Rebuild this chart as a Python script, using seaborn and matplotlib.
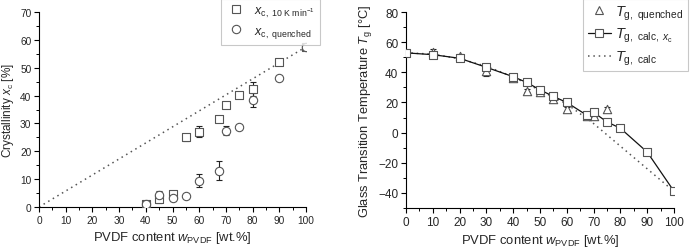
import numpy as np
import pandas as pd
import matplotlib
matplotlib.use("Agg")
import matplotlib.pyplot as plt
import seaborn as sns
from matplotlib.ticker import MultipleLocator

# ---------------- data: left panel (crystallinity) ----------------
w_sq = [40, 45, 50, 55, 60, 67.5, 70, 75, 80, 90, 100]
xc_10K = [1.0, 3.0, 4.6, 25.0, 27.1, 31.6, 36.6, 40.2, 42.2, 52.1, 57.5]
xc_10K_err = [0.5, 1.5, 1.0, 1.2, 2.0, 0.7, 0.8, 0.5, 2.5, 0.8, 0.8]
w_ci = [40, 45, 50, 55, 60, 67.5, 70, 75, 80, 90, 100]
xc_q = [1.0, 4.3, 3.2, 3.9, 9.5, 13.1, 27.4, 28.7, 38.4, 46.3, 57.5]
xc_q_err = [0.5, 1.5, 1.0, 0.5, 2.3, 3.4, 1.5, 0.5, 2.5, 0.5, 0.8]
w_ideal = [0, 100]
xc_ideal = [0, 57.5]

# ---------------- data: right panel (glass transition) ----------------
w_tri = [10, 20, 30, 40, 45, 50, 55, 60, 67.5, 70, 75]
tg_q = [53.7, 51.0, 40.7, 36.0, 27.8, 26.8, 22.2, 15.8, 11.0, 11.2, 15.8]
tg_q_err = [1.5, 1.0, 3.0, 1.2, 1.0, 1.0, 1.0, 1.5, 1.0, 1.0, 1.5]
w_calc = [0, 10, 20, 30, 40, 45, 50, 55, 60, 67.5, 70, 75, 80, 90, 100]
tg_calc_xc = [52.9, 51.7, 49.3, 43.3, 37.1, 33.3, 28.4, 24.0, 20.0, 11.5, 13.4, 7.1, 2.9, -12.9, -38.9]
w_fox = [0, 10, 20, 30, 40, 50, 60, 70, 80, 90, 100]
tg_fox = [53, 52, 49, 44, 37, 28, 19, 6, -9, -24, -39]

# ---------------- style ----------------
sns.set_theme(style="ticks")
plt.rcParams['font.family'] = ['Liberation Sans', 'DejaVu Sans']
plt.rcParams['mathtext.fontset'] = 'custom'
plt.rcParams['mathtext.rm'] = 'Liberation Sans'
plt.rcParams['mathtext.it'] = 'Liberation Sans:italic'
plt.rcParams['mathtext.bf'] = 'Liberation Sans:bold'

GRAY = '#555555'

fig = plt.figure(figsize=(6.9, 2.51), dpi=100)
ax1 = fig.add_axes([39/690, 1-208/251, (306-39)/690, (208-13)/251])
ax2 = fig.add_axes([406/690, 1-209/251, (674-406)/690, (209-13)/251])

def style_axes(ax, tfs):
    for s in ['top', 'right']:
        ax.spines[s].set_visible(False)
    for s in ['left', 'bottom']:
        ax.spines[s].set_linewidth(0.8)
        ax.spines[s].set_color('black')
    ax.tick_params(axis='both', which='major', direction='out', length=3.5, width=0.8,
                   labelsize=tfs, color='black', pad=2)
    ax.tick_params(axis='both', which='minor', direction='out', length=2, width=0.7, color='black')

# ---------------- left panel ----------------
df_sq = pd.DataFrame({'w': w_sq, 'xc': xc_10K})
df_ci = pd.DataFrame({'w': w_ci, 'xc': xc_q})
df_id = pd.DataFrame({'w': w_ideal, 'xc': xc_ideal})

sns.lineplot(data=df_id, x='w', y='xc', ax=ax1, color=GRAY, linestyle=(0, (1, 2.5)),
             linewidth=1.1, zorder=1)
ax1.errorbar(w_sq, xc_10K, yerr=xc_10K_err, fmt='none', ecolor='#222222',
             elinewidth=0.8, capsize=2, capthick=0.8, zorder=2)
ax1.errorbar(w_ci, xc_q, yerr=xc_q_err, fmt='none', ecolor='#222222',
             elinewidth=0.8, capsize=2, capthick=0.8, zorder=2)
sns.scatterplot(data=df_sq, x='w', y='xc', ax=ax1, marker='s', s=28,
                facecolor='white', edgecolor=GRAY, linewidth=0.8, zorder=3)
sns.scatterplot(data=df_ci, x='w', y='xc', ax=ax1, marker='o', s=36,
                facecolor='white', edgecolor=GRAY, linewidth=0.8, zorder=3)

ax1.set_xlim(0, 100)
ax1.set_ylim(0, 70)
ax1.xaxis.set_major_locator(MultipleLocator(10))
ax1.xaxis.set_minor_locator(MultipleLocator(5))
ax1.yaxis.set_major_locator(MultipleLocator(10))
ax1.yaxis.set_minor_locator(MultipleLocator(5))
style_axes(ax1, 7.3)
ax1.set_xlabel(r'PVDF content $\mathit{w}_{\mathrm{PVDF}}$ [wt.%]', fontsize=9.4, labelpad=3)
ax1.set_ylabel(r'Crystallinity $\mathit{x}_{\mathrm{c}}$ [%]', fontsize=8.5, labelpad=3)

h1 = plt.Line2D([], [], marker='s', linestyle='none', markersize=5.5,
                markerfacecolor='white', markeredgecolor=GRAY, markeredgewidth=0.8)
h2 = plt.Line2D([], [], marker='o', linestyle='none', markersize=6,
                markerfacecolor='white', markeredgecolor=GRAY, markeredgewidth=0.8)
leg1 = fig.legend([h1, h2],
                  [r'$\mathit{x}_{\mathrm{c,\ 10\ K\ min^{-1}}}$',
                   r'$\mathit{x}_{\mathrm{c,\ quenched}}$'],
                  loc='upper right', bbox_to_anchor=(320/690, 1.0),
                  bbox_transform=fig.transFigure, fontsize=9, frameon=True,
                  fancybox=False, edgecolor='#bbbbbb', handlelength=1.5,
                  handletextpad=0.7, borderpad=0.45, labelspacing=0.45,
                  borderaxespad=0)
leg1.get_frame().set_linewidth(0.8)

# ---------------- right panel ----------------
df_tri = pd.DataFrame({'w': w_tri, 'tg': tg_q})
df_calc = pd.DataFrame({'w': w_calc, 'tg': tg_calc_xc})
df_fox = pd.DataFrame({'w': w_fox, 'tg': tg_fox})

sns.lineplot(data=df_fox, x='w', y='tg', ax=ax2, color=GRAY, linestyle=(0, (1, 2.5)),
             linewidth=1.1, zorder=1)
sns.lineplot(data=df_calc, x='w', y='tg', ax=ax2, color='#111111', linewidth=0.9, zorder=2)
ax2.errorbar(w_tri, tg_q, yerr=tg_q_err, fmt='none', ecolor='#222222',
             elinewidth=0.8, capsize=2, capthick=0.8, zorder=2)
sns.scatterplot(data=df_tri, x='w', y='tg', ax=ax2, marker='^', s=36,
                facecolor='white', edgecolor=GRAY, linewidth=0.8, zorder=3)
sns.scatterplot(data=df_calc, x='w', y='tg', ax=ax2, marker='s', s=28,
                facecolor='white', edgecolor=GRAY, linewidth=0.8, zorder=4)

ax2.set_xlim(0, 100)
ax2.set_ylim(-50, 80)
ax2.xaxis.set_major_locator(MultipleLocator(10))
ax2.xaxis.set_minor_locator(MultipleLocator(5))
ax2.set_yticks([-40, -20, 0, 20, 40, 60, 80])
ax2.yaxis.set_minor_locator(MultipleLocator(10))
style_axes(ax2, 8.5)
ax2.set_xlabel(r'PVDF content $\mathit{w}_{\mathrm{PVDF}}$ [wt.%]', fontsize=9.4, labelpad=3)
ax2.set_ylabel(r'Glass Transition Temperature $\mathit{T}_{\mathrm{g}}$ [°C]', fontsize=9.3, labelpad=3)

g1 = plt.Line2D([], [], marker='^', linestyle='none', markersize=6,
                markerfacecolor='white', markeredgecolor=GRAY, markeredgewidth=0.8)
g2 = plt.Line2D([], [], marker='s', linestyle='-', color='#111111', linewidth=0.9,
                markersize=5.5, markerfacecolor='white', markeredgecolor=GRAY,
                markeredgewidth=0.8)
g3 = plt.Line2D([], [], linestyle=(0, (1, 2.5)), color=GRAY, linewidth=1.1)
leg2 = fig.legend([g1, g2, g3],
                  [r'$\mathit{T}_{\mathrm{g,\ quenched}}$',
                   r'$\mathit{T}_{\mathrm{g,\ calc,\ }\mathit{x}_{\mathrm{c}}}$',
                   r'$\mathit{T}_{\mathrm{g,\ calc}}$'],
                  loc='upper right', bbox_to_anchor=(688/690, 1.0),
                  bbox_transform=fig.transFigure, fontsize=10.5, frameon=True,
                  fancybox=False, edgecolor='#bbbbbb', handlelength=1.6,
                  handletextpad=0.3, borderpad=0.3, labelspacing=0.3,
                  borderaxespad=0)
leg2.get_frame().set_linewidth(0.8)

fig.savefig('out.png', dpi=100, facecolor='white')
